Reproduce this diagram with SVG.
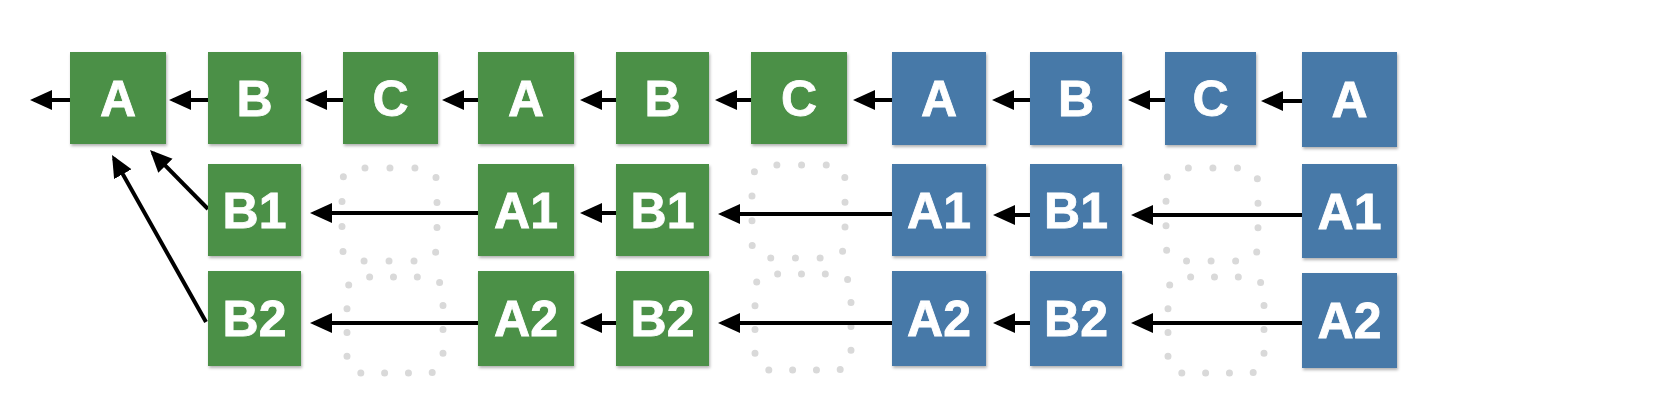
<svg xmlns="http://www.w3.org/2000/svg" width="1680" height="402" viewBox="0 0 1680 402">
  <style>
    .g { fill: #4b9046; }
    .b { fill: #4779a8; }
    .box { filter: url(#sh); }
    .t { fill: #ffffff; stroke: #ffffff; stroke-width: 0.8; font-family: "Liberation Sans", Arial, Helvetica, sans-serif; font-weight: bold; font-size: 50px; text-anchor: middle; }
    .ghost { fill: none; stroke: #d9d9d9; stroke-width: 7; stroke-linecap: round; stroke-dasharray: 0 1; }
    .c { fill: none; stroke: #000000; stroke-width: 4; marker-end: url(#ah); }
  </style>
  <defs>
    <filter id="sh" x="-10%" y="-10%" width="130%" height="130%">
      <feDropShadow dx="1" dy="2" stdDeviation="1.5" flood-color="#000000" flood-opacity="0.3"/>
    </filter>
    <marker id="ah" markerUnits="userSpaceOnUse" markerWidth="24" markerHeight="22" viewBox="0 -11 24 22" refX="18" refY="0" orient="auto">
      <path d="M0,-10 L22,0 L0,10 Z" fill="#000000"/>
    </marker>
  </defs>
  <rect width="1680" height="402" fill="#ffffff"/>

  <g id="ghosts">
    <rect class="ghost" x="342" y="168" width="95" height="93" rx="15" pathLength="14" stroke-dashoffset="-0.32"/>
    <rect class="ghost" x="347" y="277" width="96" height="96" rx="15" pathLength="15" stroke-dashoffset="-0.32"/>
    <rect class="ghost" x="752" y="165" width="93" height="93" rx="15" pathLength="14" stroke-dashoffset="-0.4"/>
    <rect class="ghost" x="755" y="274" width="96" height="96" rx="15" pathLength="15" stroke-dashoffset="-0.32"/>
    <rect class="ghost" x="1166" y="168" width="92" height="93" rx="15" pathLength="14" stroke-dashoffset="-0.3"/>
    <rect class="ghost" x="1168" y="277" width="96" height="96" rx="15" pathLength="15" stroke-dashoffset="-0.32"/>
  </g>

  <g id="connectors">
    <line class="c" x1="70" y1="100" x2="34" y2="100"/>
    <line class="c" x1="208" y1="100" x2="173" y2="100"/>
    <line class="c" x1="343" y1="100" x2="309" y2="100"/>
    <line class="c" x1="478" y1="100" x2="446" y2="100"/>
    <line class="c" x1="616" y1="100" x2="584" y2="100"/>
    <line class="c" x1="751" y1="100" x2="719" y2="100"/>
    <line class="c" x1="892" y1="100" x2="857" y2="100"/>
    <line class="c" x1="1030" y1="100" x2="996" y2="100"/>
    <line class="c" x1="1165" y1="100" x2="1132" y2="100"/>
    <line class="c" x1="1302" y1="101" x2="1265" y2="101"/>

    <line class="c" x1="478" y1="213" x2="314" y2="213"/>
    <line class="c" x1="616" y1="213" x2="584" y2="213"/>
    <line class="c" x1="892" y1="214" x2="722" y2="214"/>
    <line class="c" x1="1030" y1="215" x2="997" y2="215"/>
    <line class="c" x1="1302" y1="215" x2="1135" y2="215"/>

    <line class="c" x1="478" y1="323" x2="314" y2="323"/>
    <line class="c" x1="616" y1="323" x2="584" y2="323"/>
    <line class="c" x1="892" y1="323" x2="722" y2="323"/>
    <line class="c" x1="1030" y1="323" x2="997" y2="323"/>
    <line class="c" x1="1302" y1="323" x2="1135" y2="323"/>

    <line class="c" x1="208" y1="209" x2="152.8" y2="152.9"/>
    <line class="c" x1="206" y1="322" x2="114" y2="158.5"/>
  </g>

  <g id="n1"><rect class="box g" x="70" y="52" width="96" height="92"/><text class="t" x="118" y="116">A</text></g>
  <g id="n2"><rect class="box g" x="208" y="52" width="93" height="92"/><text class="t" x="254.5" y="116">B</text></g>
  <g id="n3"><rect class="box g" x="343" y="52" width="95" height="92"/><text class="t" x="390.5" y="116">C</text></g>
  <g id="n4"><rect class="box g" x="478" y="52" width="96" height="92"/><text class="t" x="526" y="116">A</text></g>
  <g id="n5"><rect class="box g" x="616" y="52" width="93" height="92"/><text class="t" x="662.5" y="116">B</text></g>
  <g id="n6"><rect class="box g" x="751" y="52" width="96" height="92"/><text class="t" x="799" y="116">C</text></g>
  <g id="n7"><rect class="box b" x="892" y="52" width="94" height="93"/><text class="t" x="939" y="116">A</text></g>
  <g id="n8"><rect class="box b" x="1030" y="52" width="92" height="93"/><text class="t" x="1076" y="116">B</text></g>
  <g id="n9"><rect class="box b" x="1165" y="52" width="91" height="93"/><text class="t" x="1210.5" y="116">C</text></g>
  <g id="n10"><rect class="box b" x="1302" y="52" width="95" height="95"/><text class="t" x="1349.5" y="117">A</text></g>

  <g id="n11"><rect class="box g" x="208" y="164" width="93" height="92"/><text class="t" x="254.5" y="228">B1</text></g>
  <g id="n12"><rect class="box g" x="478" y="164" width="96" height="92"/><text class="t" x="526" y="228">A1</text></g>
  <g id="n13"><rect class="box g" x="616" y="164" width="93" height="92"/><text class="t" x="662.5" y="228">B1</text></g>
  <g id="n14"><rect class="box b" x="892" y="164" width="94" height="92"/><text class="t" x="939" y="228">A1</text></g>
  <g id="n15"><rect class="box b" x="1030" y="164" width="92" height="92"/><text class="t" x="1076" y="228">B1</text></g>
  <g id="n16"><rect class="box b" x="1302" y="164" width="95" height="94"/><text class="t" x="1349.5" y="229">A1</text></g>

  <g id="n17"><rect class="box g" x="208" y="271" width="93" height="95"/><text class="t" x="254.5" y="336">B2</text></g>
  <g id="n18"><rect class="box g" x="478" y="271" width="96" height="95"/><text class="t" x="526" y="336">A2</text></g>
  <g id="n19"><rect class="box g" x="616" y="271" width="93" height="95"/><text class="t" x="662.5" y="336">B2</text></g>
  <g id="n20"><rect class="box b" x="892" y="271" width="94" height="95"/><text class="t" x="939" y="336">A2</text></g>
  <g id="n21"><rect class="box b" x="1030" y="271" width="92" height="95"/><text class="t" x="1076" y="336">B2</text></g>
  <g id="n22"><rect class="box b" x="1302" y="273" width="95" height="95"/><text class="t" x="1349.5" y="338">A2</text></g>
</svg>
